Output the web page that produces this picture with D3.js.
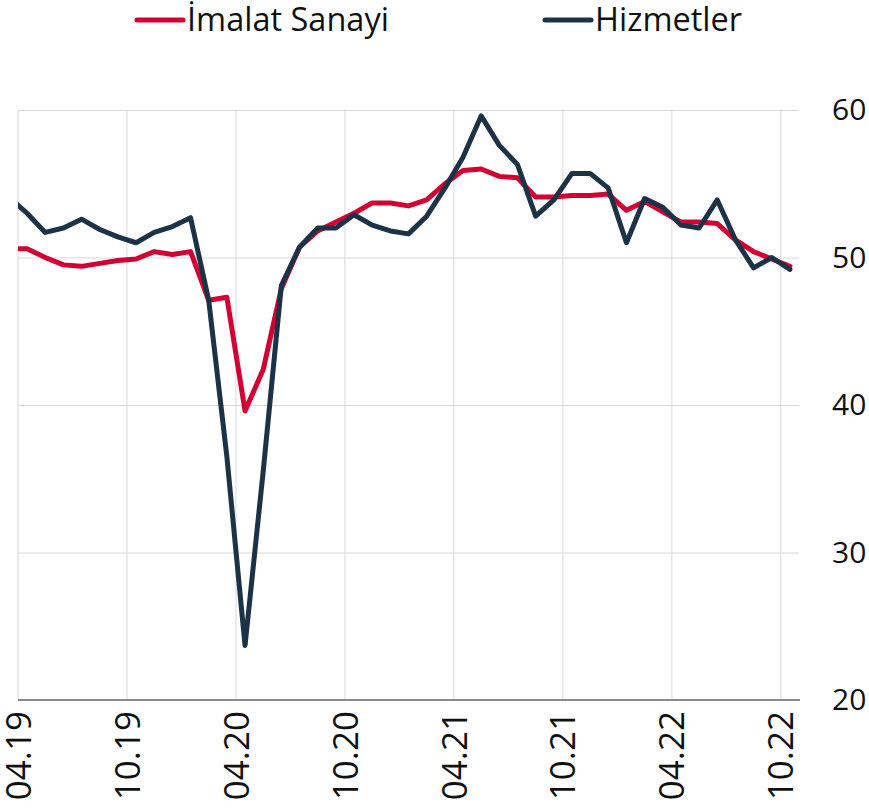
<!DOCTYPE html>
<html>
<head>
<meta charset="utf-8">
<script src="https://cdn.jsdelivr.net/npm/d3@7"></script>
<style>
  body { margin: 0; background: #fff; }
  text { font-family: "Open Sans", sans-serif; fill: #111; }
</style>
</head>
<body>
<script>
var months = [
  "03.19", "04.19", "05.19", "06.19", "07.19", "08.19", "09.19", "10.19", "11.19", "12.19",
  "01.20", "02.20", "03.20", "04.20", "05.20", "06.20", "07.20", "08.20", "09.20", "10.20", "11.20", "12.20",
  "01.21", "02.21", "03.21", "04.21", "05.21", "06.21", "07.21", "08.21", "09.21", "10.21", "11.21", "12.21",
  "01.22", "02.22", "03.22", "04.22", "05.22", "06.22", "07.22", "08.22", "09.22", "10.22"
];

var imalat = [
  50.6, 50.6, 50.0, 49.5, 49.4, 49.6, 49.8, 49.9, 50.4, 50.2,
  50.4, 47.1, 47.3, 39.6, 42.4, 47.9, 50.7, 51.8, 52.4, 53.0, 53.7, 53.7,
  53.5, 53.9, 55.0, 55.9, 56.0, 55.5, 55.4, 54.1, 54.1, 54.2, 54.2, 54.3,
  53.2, 53.8, 53.1, 52.4, 52.4, 52.3, 51.2, 50.4, 49.9, 49.4
];

var hizmetler = [
  54.1, 53.0, 51.7, 52.0, 52.6, 51.9, 51.4, 51.0, 51.7, 52.1,
  52.7, 47.1, 36.5, 23.7, 35.5, 48.1, 50.7, 52.0, 52.0, 52.9, 52.2, 51.8,
  51.6, 52.8, 54.7, 56.8, 59.6, 57.6, 56.3, 52.8, 53.9, 55.7, 55.7, 54.7,
  51.0, 54.0, 53.4, 52.2, 52.0, 53.9, 51.2, 49.3, 50.0, 49.2
];

var xTicks = ["04.19", "10.19", "04.20", "10.20", "04.21", "10.21", "04.22", "10.22"];
var yTicks = [20, 30, 40, 50, 60];

var width = 869, height = 811;
var plotL = 18, plotR = 799, plotT = 110, plotB = 700;

var svg = d3.select("body").append("svg")
    .attr("width", width)
    .attr("height", height);

// one band per month; 04.19 band starts at the left edge, 03.19 falls outside (clipped)
var step = (plotR - plotL) / (months.length - 1);
var x = d3.scaleBand()
    .domain(months)
    .range([plotL - step, plotR])
    .padding(0);

var y = d3.scaleLinear()
    .domain([20, 60])
    .range([plotB, plotT]);

// y axis on the right, ticks stretched as gridlines
var yAxis = svg.append("g")
    .attr("transform", "translate(" + plotR + ",0)")
    .call(d3.axisRight(y).tickValues(yTicks).tickSize(-(plotR - plotL)).tickPadding(33));
yAxis.select(".domain").remove();
yAxis.selectAll(".tick line").attr("stroke", "#d9d9d9").attr("stroke-width", 1);
yAxis.selectAll(".tick text")
    .style("font-size", "30px")
    .attr("fill", "#111");

// x axis with vertical gridlines
var xAxis = svg.append("g")
    .attr("transform", "translate(0," + plotB + ")")
    .call(d3.axisBottom(x).tickValues(xTicks).tickSize(-(plotB - plotT)).tickPadding(0));
xAxis.select(".domain").remove();
xAxis.selectAll(".tick").attr("transform", function(d) { return "translate(" + x(d) + ",0)"; });
xAxis.selectAll(".tick line").attr("stroke", "#d9d9d9").attr("stroke-width", 1);
xAxis.selectAll(".tick text")
    .style("font-size", "35px")
    .attr("fill", "#111")
    .attr("transform", "rotate(-90)")
    .attr("x", -11)
    .attr("y", 0)
    .attr("dy", "0.36em")
    .attr("text-anchor", "end");

// baseline
svg.append("line")
    .attr("x1", plotL).attr("x2", plotR + 1)
    .attr("y1", plotB).attr("y2", plotB)
    .attr("stroke", "#8a8a8a")
    .attr("stroke-width", 2);

svg.append("clipPath").attr("id", "plot-clip")
  .append("rect")
    .attr("x", plotL).attr("y", 0)
    .attr("width", plotR - plotL + 10).attr("height", height);

var line = d3.line()
    .x(function(d) { return x(d.m) + x.bandwidth() / 2; })
    .y(function(d) { return y(d.v); });

var series = [
  {name: "İmalat Sanayi", color: "#d50032", values: imalat},
  {name: "Hizmetler", color: "#1c3246", values: hizmetler}
];

svg.append("g").attr("clip-path", "url(#plot-clip)")
  .selectAll("path")
  .data(series)
  .enter().append("path")
    .attr("fill", "none")
    .attr("stroke", function(d) { return d.color; })
    .attr("stroke-width", 5)
    .attr("stroke-linejoin", "round")
    .attr("stroke-linecap", "round")
    .attr("d", function(s) {
      return line(s.values.map(function(v, i) { return {m: months[i], v: v}; }));
    });

// Legend
var legendX = [137, 545];
var legend = svg.selectAll(".legend")
    .data(series)
    .enter().append("g")
    .attr("class", "legend")
    .attr("transform", function(d, i) { return "translate(" + legendX[i] + ",20)"; });

legend.append("line")
    .attr("x1", 0).attr("x2", 46)
    .attr("stroke", function(d) { return d.color; })
    .attr("stroke-width", 5)
    .attr("stroke-linecap", "round");

legend.append("text")
    .attr("x", 50)
    .attr("y", 11)
    .style("font-size", "32.5px")
    .text(function(d) { return d.name; });
</script>
</body>
</html>
